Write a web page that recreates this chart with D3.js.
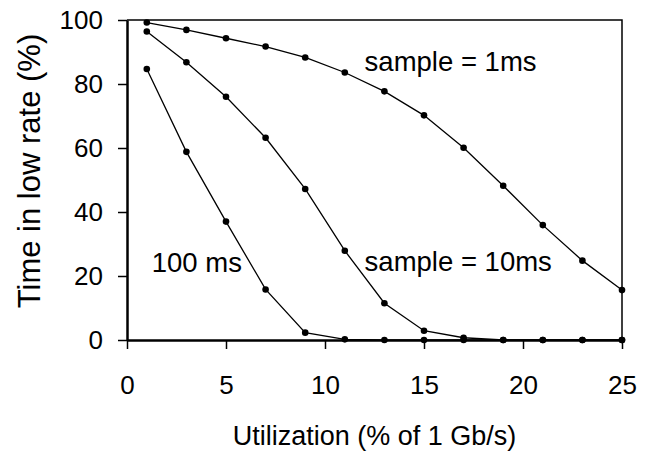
<!DOCTYPE html>
<html>
<head>
<meta charset="utf-8">
<script src="https://cdn.jsdelivr.net/npm/d3@7"></script>
<style>
  body { margin: 0; background: #fff; }
  text { font-family: "Liberation Sans", Arial, sans-serif; fill: #000; }
</style>
</head>
<body>
<script>
// utilization (% of 1 Gb/s)
const utilization = [1, 3, 5, 7, 9, 11, 13, 15, 17, 19, 21, 23, 25];

// time in low rate (%) for each sample interval
const sample1ms = [99.2, 96.9, 94.3, 91.7, 88.3, 83.6, 77.7, 70.2, 60.1, 48.2, 35.9, 24.8, 15.6];
const sample10ms = [96.4, 86.8, 76.0, 63.2, 47.2, 27.9, 11.5, 2.9, 0.7, 0, 0, 0, 0];
const sample100ms = [84.7, 58.8, 37.0, 15.8, 2.3, 0.2, 0, 0, 0, 0, 0, 0, 0];

const xTicks = [0, 5, 10, 15, 20, 25];
const yTicks = [0, 20, 40, 60, 80, 100];

// series with the data position of their in-plot label
const series = [
  { name: 'sample = 1ms', values: sample1ms, lx: 12.0, ly: 84 },
  { name: 'sample = 10ms', values: sample10ms, lx: 12.0, ly: 21.6 },
  { name: '100 ms', values: sample100ms, lx: 1.25, ly: 21.3 }
];

const width = 655, height = 452;
const margin = { top: 20, right: 33, bottom: 112, left: 127 };
const w = width - margin.left - margin.right;
const h = height - margin.top - margin.bottom;

const svg = d3.select('body')
  .append('svg')
  .attr('width', width)
  .attr('height', height);

const g = svg.append('g')
  .attr('transform', `translate(${margin.left},${margin.top})`);

const xScale = d3.scaleLinear().domain([0, 25]).range([0, w]);
const yScale = d3.scaleLinear().domain([0, 100]).range([h, 0]);

// frame (top and right)
g.append('path')
  .attr('d', `M0,0H${w}V${h}`)
  .attr('fill', 'none')
  .attr('stroke', '#000')
  .attr('stroke-width', 1.5);

// axes
const xAxis = d3.axisBottom(xScale)
  .tickValues(xTicks)
  .tickSize(9)
  .tickPadding(27)
  .tickSizeOuter(0);

const yAxis = d3.axisLeft(yScale)
  .tickValues(yTicks)
  .tickSize(9)
  .tickPadding(15)
  .tickSizeOuter(0);

const gx = g.append('g')
  .attr('transform', `translate(0,${h})`)
  .call(xAxis);

const gy = g.append('g')
  .call(yAxis);

[gx, gy].forEach(a => {
  a.select('.domain').attr('stroke-width', 2.5);
  a.selectAll('.tick line').attr('stroke-width', 1.5);
  a.selectAll('.tick text')
    .style('font-size', '26px')
    .attr('fill', '#000');
});

// lines and points
const line = d3.line()
  .x((d, i) => xScale(utilization[i]))
  .y(d => yScale(d));

series.forEach(s => {
  g.append('path')
    .datum(s.values)
    .attr('fill', 'none')
    .attr('stroke', '#000')
    .attr('stroke-width', 1.3)
    .attr('d', line);

  g.selectAll(null)
    .data(s.values)
    .enter()
    .append('circle')
    .attr('cx', (d, i) => xScale(utilization[i]))
    .attr('cy', d => yScale(d))
    .attr('r', 3.3)
    .attr('fill', '#000');

  g.append('text')
    .attr('x', xScale(s.lx))
    .attr('y', yScale(s.ly))
    .style('font-size', '27.5px')
    .text(s.name);
});

// axis titles
svg.append('text')
  .attr('x', margin.left + w / 2)
  .attr('y', 445)
  .attr('text-anchor', 'middle')
  .style('font-size', '27px')
  .text('Utilization (% of 1 Gb/s)');

svg.append('text')
  .attr('transform', 'translate(40,171) rotate(-90)')
  .attr('text-anchor', 'middle')
  .style('font-size', '31px')
  .text('Time in low rate (%)');
</script>
</body>
</html>
